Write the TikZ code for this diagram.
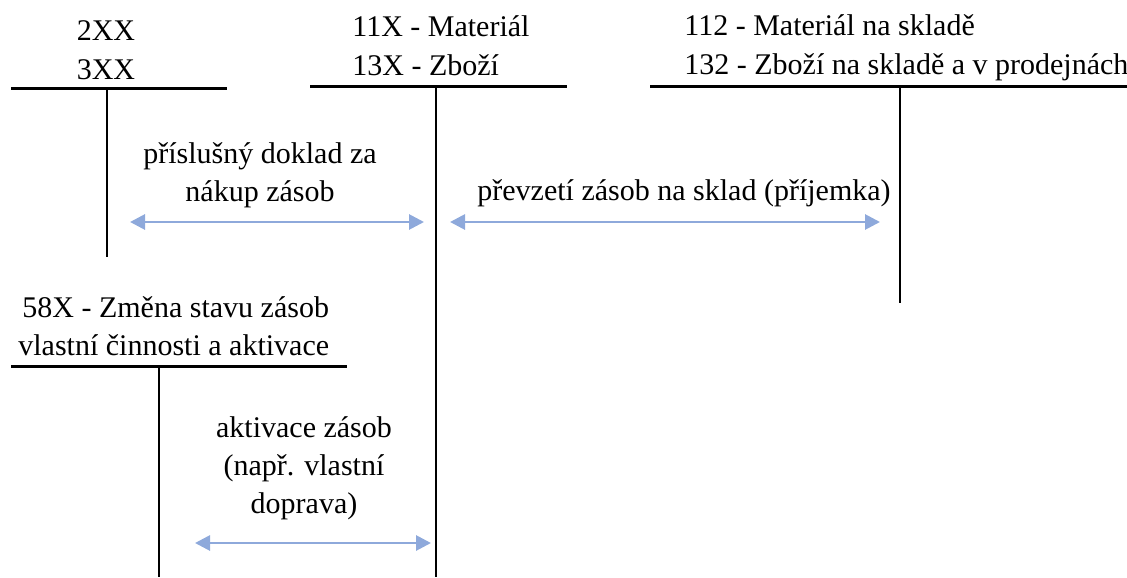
\documentclass[tikz,border=0pt]{standalone}
\usepackage{fontspec}
\setmainfont{Liberation Serif}
\usetikzlibrary{arrows.meta, positioning}
\definecolor{flowBlue}{HTML}{8EA9DB}

\begin{document}
\begin{tikzpicture}[
    x=0.5pt, y=-0.5pt,
    every node/.style={font=\fontsize{15}{19.5}\selectfont, inner sep=0pt},
    tbar/.style={line width=1.5pt},
    tstem/.style={line width=1.1pt},
    flow/.style={{Triangle[length=7.5pt, width=7.5pt]}-{Triangle[length=7.5pt, width=7.5pt]}, flowBlue, line width=1.4pt}
]
    \useasboundingbox (0,0) rectangle (1127,577);

    % 2XX / 3XX
    \node[anchor=base] (k2) at (106,41) {2XX};
    \node[anchor=base] (k3) at ([yshift=-19.5pt]k2.base) {3XX};
    \draw[tbar] (11,89) -- (227,89);
    \draw[tstem] (107,89) -- (107,257);

    % 11X / 13X
    \node[anchor=base west] (mat) at (352,37) {11X - Materiál};
    \node[anchor=base west] (zbo) at ([yshift=-19.5pt]mat.base west) {13X - Zboží};
    \draw[tbar] (310,87) -- (567,87);
    \draw[tstem] (436,87) -- (436,577);

    % 112 / 132
    \node[anchor=base west] (msk) at (684,36) {112 - Materiál na skladě};
    \node[anchor=base west] (zsk) at ([yshift=-19.5pt]msk.base west) {132 - Zboží na skladě a v prodejnách};
    \draw[tbar] (650,87) -- (1127,87);
    \draw[tstem] (900,87) -- (900,303);

    % 58X
    \node[anchor=base west] (zmena) at (22,317) {58X - Změna stavu zásob};
    \node[anchor=base west] (vlast) at (18,355) {vlastní činnosti a aktivace};
    \draw[tbar] (11,366) -- (347,366);
    \draw[tstem] (159,366) -- (159,577);

    % flows
    \node[anchor=base] (doklad) at (260,163) {příslušný doklad za};
    \node[anchor=base] (nakup) at ([yshift=-19pt]doklad.base) {nákup zásob};
    \coordinate (f1a) at (130,222);
    \coordinate (f1b) at (424,222);
    \draw[flow] (f1a) -- (f1b);

    \node[anchor=base] (prevz) at (684,200) {převzetí zásob na sklad (příjemka)};
    \coordinate (f2a) at (450,222);
    \coordinate (f2b) at (880,222);
    \draw[flow] (f2a) -- (f2b);

    \node[anchor=base] (akt) at (304,437) {aktivace zásob};
    \node[anchor=base] (napr) at ([yshift=-19pt]akt.base) {(např. vlastní};
    \node[anchor=base] (dopr) at ([yshift=-19pt]napr.base) {doprava)};
    \coordinate (f3a) at (195,543);
    \coordinate (f3b) at (431,543);
    \draw[flow] (f3a) -- (f3b);
\end{tikzpicture}
\end{document}
